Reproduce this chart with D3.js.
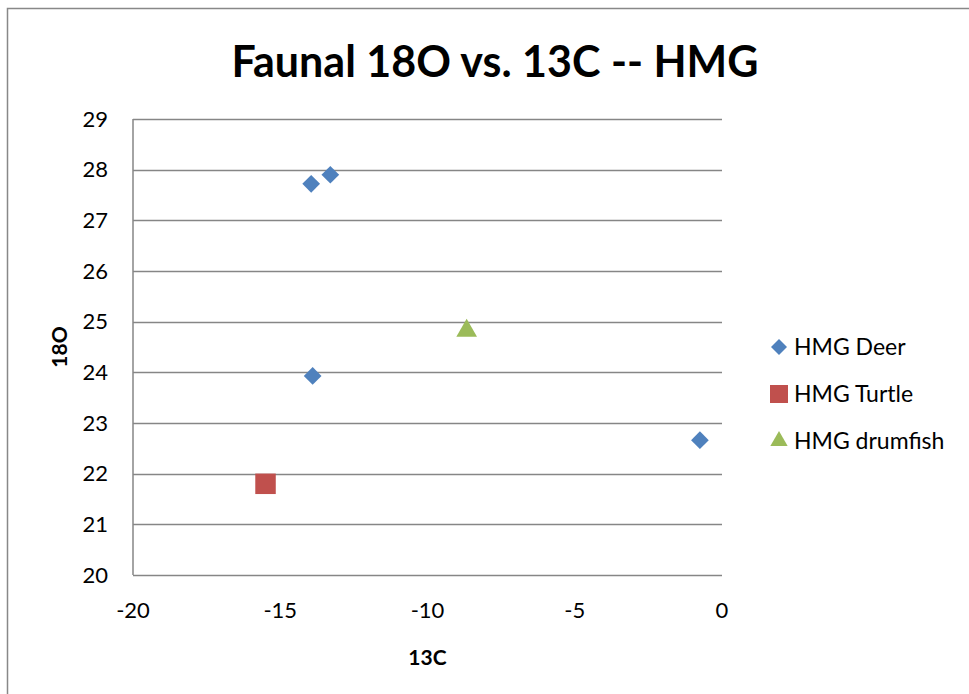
<!DOCTYPE html>
<html>
<head>
<meta charset="utf-8">
<script src="https://cdn.jsdelivr.net/npm/d3@7"></script>
<style>
  body { margin: 0; background: #fff; }
  svg text { font-family: Lato, "Open Sans", sans-serif; fill: #000; }
</style>
</head>
<body>
<div id="chart"></div>
<script>
// data
var deerX = [-13.95, -13.3, -13.9, -0.75];
var deerY = [27.72, 27.9, 23.93, 22.66];
var turtleX = [-15.5];
var turtleY = [21.8];
var drumX = [-8.67];
var drumY = [24.82];
var seriesNames = ["HMG Deer", "HMG Turtle", "HMG drumfish"];
var xTicks = [-20, -15, -10, -5, 0];
var yTicks = [20, 21, 22, 23, 24, 25, 26, 27, 28, 29];

var width = 969, height = 694;
var margin = {top: 119, right: 247, bottom: 119, left: 133};

var svg = d3.select("#chart").append("svg")
    .attr("width", width)
    .attr("height", height);

// chart border (right and bottom edges run off the picture)
svg.append("rect")
    .attr("x", 7.5).attr("y", 8.5)
    .attr("width", 980).attr("height", 700)
    .attr("fill", "none")
    .attr("stroke", "#888")
    .attr("stroke-width", 1.5);

var x = d3.scaleLinear().domain([-20, 0]).range([margin.left, width - margin.right]);
var y = d3.scaleLinear().domain([20, 29]).range([height - margin.bottom, margin.top]);

// gridlines
svg.append("g")
    .selectAll("line")
    .data(yTicks)
    .enter().append("line")
    .attr("x1", x(-20)).attr("x2", x(0))
    .attr("y1", function(d) { return Math.round(y(d)) + 0.5; })
    .attr("y2", function(d) { return Math.round(y(d)) + 0.5; })
    .attr("stroke", "#868686")
    .attr("stroke-width", 1.5);

// left axis line
svg.append("line")
    .attr("x1", x(-20)).attr("x2", x(-20))
    .attr("y1", y(29)).attr("y2", y(20))
    .attr("stroke", "#868686").attr("stroke-width", 1.5);

svg.append("g")
    .selectAll("text")
    .data(yTicks)
    .enter().append("text")
    .attr("x", x(-20) - 25)
    .attr("y", function(d) { return y(d); })
    .attr("dy", "0.35em")
    .attr("text-anchor", "end")
    .style("font-size", "22px")
    .text(function(d) { return d; });

// x tick labels
svg.append("g")
    .selectAll("text")
    .data(xTicks)
    .enter().append("text")
    .attr("x", function(d) { return x(d); })
    .attr("y", y(20) + 35)
    .attr("dy", "0.35em")
    .attr("text-anchor", "middle")
    .style("font-size", "22px")
    .text(function(d) { return d; });

// titles
svg.append("text")
    .attr("x", 495).attr("y", 77)
    .attr("text-anchor", "middle")
    .style("font-size", "43px")
    .style("font-weight", "bold")
    .text("Faunal 18O vs. 13C -- HMG");

svg.append("text")
    .attr("x", x(-10)).attr("y", 665)
    .attr("text-anchor", "middle")
    .style("font-size", "21px")
    .style("font-weight", "bold")
    .text("13C");

svg.append("text")
    .attr("transform", "translate(67," + y(24.5) + ") rotate(-90)")
    .attr("text-anchor", "middle")
    .style("font-size", "21px")
    .style("font-weight", "bold")
    .text("18O");

// markers
var colors = ["#4f81bd", "#c0504d", "#9bbb59"];
var symbols = [d3.symbolDiamond2, d3.symbolSquare, d3.symbolTriangle];

function drawSeries(xs, ys, i, size) {
    svg.append("g")
        .selectAll("path")
        .data(xs)
        .enter().append("path")
        .attr("transform", function(d, j) { return "translate(" + x(d) + "," + y(ys[j]) + ")"; })
        .attr("d", d3.symbol().type(symbols[i]).size(size))
        .attr("fill", colors[i]);
}
drawSeries(deerX, deerY, 0, 200);
drawSeries(turtleX, turtleY, 1, 420);
drawSeries(drumX, drumY, 2, 185);

// legend
var legend = svg.append("g");
var legendSizes = [162, 324, 130];
seriesNames.forEach(function(name, i) {
    var ly = 347 + i * 47;
    legend.append("path")
        .attr("transform", "translate(779," + ly + ")")
        .attr("d", d3.symbol().type(symbols[i]).size(legendSizes[i]))
        .attr("fill", colors[i]);
    legend.append("text")
        .attr("x", 794).attr("y", ly)
        .attr("dy", "0.35em")
        .style("font-size", "23px")
        .text(name);
});
</script>
</body>
</html>
